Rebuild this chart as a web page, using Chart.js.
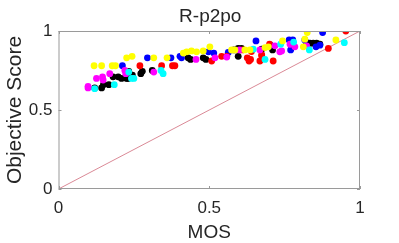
<!DOCTYPE html>
<html>
<head>
<meta charset="utf-8">
<script src="https://cdn.jsdelivr.net/npm/chart.js@4"></script>
<style>
  html, body { margin: 0; padding: 0; background: #fff; }
  #wrap { width: 399px; height: 243px; }
</style>
</head>
<body>
<div id="wrap"><canvas id="scatter"></canvas></div>
<script>
const tickValues = [0, 0.5, 1];

const yellowMos = [0.118, 0.143, 0.178, 0.189, 0.226, 0.244, 0.316, 0.36, 0.414, 0.425, 0.441, 0.458, 0.48, 0.502, 0.574, 0.585, 0.618, 0.635, 0.685, 0.696, 0.743, 0.812, 0.817, 0.825, 0.92];
const yellowScore = [0.78, 0.78, 0.78, 0.78, 0.83, 0.84, 0.83, 0.83, 0.86, 0.868, 0.874, 0.868, 0.874, 0.90, 0.88, 0.88, 0.88, 0.88, 0.895, 0.90, 0.937, 0.90, 0.948, 0.99, 0.943];

const cyanMos = [0.12, 0.185, 0.25, 0.242, 0.233, 0.34, 0.347, 0.646, 0.685, 0.737, 0.78, 0.832, 0.948];
const cyanScore = [0.635, 0.66, 0.70, 0.70, 0.74, 0.75, 0.73, 0.885, 0.82, 0.916, 0.93, 0.88, 0.926];

const magentaMos = [0.098, 0.098, 0.126, 0.146, 0.148, 0.17, 0.223, 0.22, 0.316, 0.456, 0.519, 0.558, 0.60, 0.668, 0.718, 0.734, 0.74, 0.768, 0.784, 0.823];
const magentaScore = [0.65, 0.64, 0.70, 0.71, 0.69, 0.73, 0.73, 0.75, 0.74, 0.82, 0.83, 0.835, 0.88, 0.88, 0.906, 0.868, 0.874, 0.916, 0.90, 0.906];

const redMos = [0.27, 0.342, 0.378, 0.386, 0.508, 0.541, 0.558, 0.61, 0.626, 0.632, 0.637, 0.64, 0.668, 0.674, 0.674, 0.70, 0.712, 0.895, 0.953];
const redScore = [0.78, 0.78, 0.78, 0.78, 0.81, 0.84, 0.84, 0.88, 0.83, 0.81, 0.82, 0.87, 0.81, 0.843, 0.85, 0.916, 0.81, 0.89, 1.0];

const blueMos = [0.212, 0.295, 0.373, 0.403, 0.408, 0.497, 0.515, 0.563, 0.655, 0.703, 0.765, 0.777, 0.77, 0.817, 0.854, 0.867, 0.876];
const blueScore = [0.78, 0.83, 0.83, 0.84, 0.83, 0.868, 0.86, 0.864, 0.937, 0.91, 0.943, 0.943, 0.88, 0.943, 0.90, 0.91, 0.99];

const blackMos = [0.12, 0.143, 0.149, 0.167, 0.181, 0.198, 0.209, 0.226, 0.231, 0.245, 0.233, 0.273, 0.278, 0.311, 0.43, 0.438, 0.48, 0.489, 0.582, 0.596, 0.607, 0.596, 0.674, 0.71, 0.823, 0.834, 0.845, 0.856, 0.867];
const blackScore = [0.64, 0.64, 0.66, 0.66, 0.71, 0.71, 0.70, 0.70, 0.70, 0.72, 0.745, 0.73, 0.745, 0.75, 0.83, 0.82, 0.83, 0.82, 0.88, 0.89, 0.89, 0.84, 0.885, 0.88, 0.926, 0.923, 0.923, 0.923, 0.916];

const diagMos = [0, 1];
const diagScore = [0, 1];

const FONT = "'Liberation Sans', Arial, Helvetica, sans-serif";
const TEXT = "#262626";
const AXIS = "#9a9a9a";

function pts(xs, ys) {
  return xs.map((x, i) => ({ x: x, y: ys[i] }));
}

function dots(color, xs, ys) {
  return {
    type: "scatter",
    data: pts(xs, ys),
    backgroundColor: color,
    borderWidth: 0,
    pointRadius: 3.4,
    pointHoverRadius: 3.4,
  };
}

// matlab style box, inward ticks, title and axis labels
const matlabAxes = {
  id: "matlabAxes",
  afterDraw(chart) {
    const c = chart.ctx;
    const a = chart.chartArea;
    const xs = chart.scales.x;
    const ys = chart.scales.y;
    c.save();
    c.strokeStyle = AXIS;
    c.lineWidth = 1;
    c.strokeRect(a.left + 0.5, a.top + 0.5, a.right - a.left - 1, a.bottom - a.top - 1);
    c.beginPath();
    tickValues.forEach((v) => {
      const px = Math.round(xs.getPixelForValue(v)) + 0.5;
      c.moveTo(px, a.bottom); c.lineTo(px, a.bottom - 3);
      c.moveTo(px, a.top); c.lineTo(px, a.top + 3);
      const py = Math.round(ys.getPixelForValue(v)) + 0.5;
      c.moveTo(a.left, py); c.lineTo(a.left + 3, py);
      c.moveTo(a.right, py); c.lineTo(a.right - 3, py);
    });
    c.stroke();

    c.fillStyle = TEXT;
    c.font = "19px " + FONT;
    c.textAlign = "center";
    c.textBaseline = "alphabetic";
    const cx = (a.left + a.right) / 2;
    c.fillText("R-p2po", cx + 1, 21.5);
    c.fillText("MOS", cx, 238);
    c.font = "21px " + FONT;
    c.translate(20.5, (a.top + a.bottom) / 2);
    c.rotate(-Math.PI / 2);
    c.fillText("Objective Score", 0, 0);
    c.restore();
  },
};

new Chart(document.getElementById("scatter"), {
  data: {
    datasets: [
      dots("#ffff00", yellowMos, yellowScore),
      dots("#00ffff", cyanMos, cyanScore),
      dots("#ff00ff", magentaMos, magentaScore),
      dots("#ff0000", redMos, redScore),
      dots("#0000ff", blueMos, blueScore),
      dots("#000000", blackMos, blackScore),
      {
        type: "line",
        data: pts(diagMos, diagScore),
        borderColor: "rgba(200,80,100,0.85)",
        borderWidth: 0.8,
        pointRadius: 0,
        fill: false,
      },
    ],
  },
  options: {
    responsive: true,
    maintainAspectRatio: false,
    animation: false,
    layout: { padding: { top: 31, right: 39, left: 0, bottom: 0 } },
    plugins: {
      legend: { display: false },
      title: { display: false },
      tooltip: { enabled: false },
    },
    scales: {
      x: {
        type: "linear",
        min: 0,
        max: 1,
        afterBuildTicks: (s) => { s.ticks = tickValues.map((v) => ({ value: v })); },
        afterFit: (s) => { s.height = 54; },
        grid: { display: false, drawTicks: false },
        border: { display: false },
        ticks: {
          padding: 9,
          color: TEXT,
          font: { family: FONT, size: 17 },
          maxRotation: 0,
          callback: (v) => String(v),
        },
      },
      y: {
        type: "linear",
        min: 0,
        max: 1,
        afterBuildTicks: (s) => { s.ticks = tickValues.map((v) => ({ value: v })); },
        afterFit: (s) => { s.width = 58.5; },
        grid: { display: false, drawTicks: false },
        border: { display: false },
        ticks: {
          padding: 6,
          color: TEXT,
          font: { family: FONT, size: 17 },
          callback: (v) => String(v),
        },
      },
    },
  },
  plugins: [matlabAxes],
});
</script>
</body>
</html>
